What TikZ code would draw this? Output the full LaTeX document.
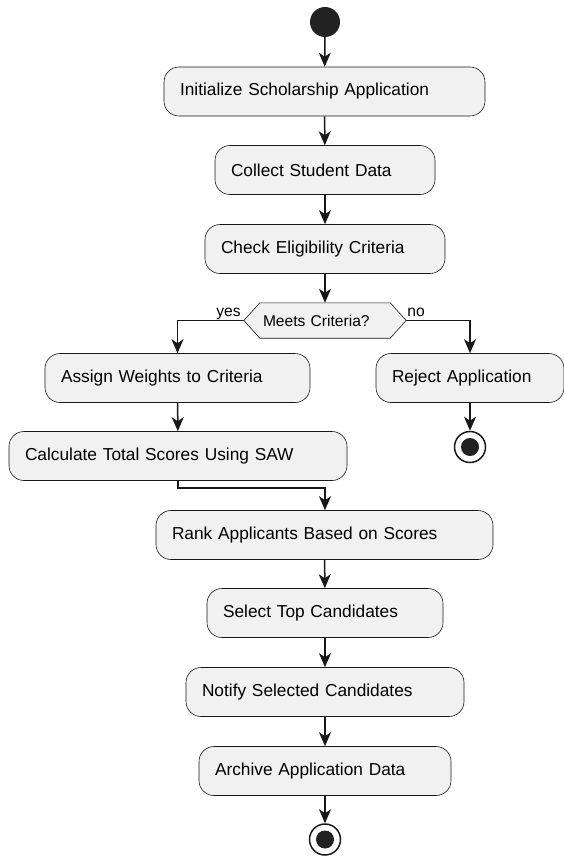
\documentclass[tikz,border=0pt]{standalone}
\usepackage{fontspec}
\setmainfont{Liberation Sans}
\usepackage{tikz}
\usetikzlibrary{arrows.meta,calc,backgrounds}
\definecolor{actfill}{HTML}{F1F1F1}
\definecolor{actline}{HTML}{181818}
\definecolor{dotfill}{HTML}{222222}

\begin{document}
\begin{tikzpicture}[x=1pt, y=-1pt, >={Stealth[length=14pt,width=12pt,inset=4pt]},
  act/.style={draw=actline, fill=actfill, rounded corners=15pt, line width=0.6pt,
              minimum height=49pt, align=left, inner xsep=16pt, inner ysep=0pt,
              font=\fontsize{17.3}{20}\selectfont},
  choice/.style={minimum width=130pt, minimum height=35pt, inner xsep=3pt, inner ysep=0pt,
                 text width=124pt, align=left, font=\fontsize{15.6}{18}\selectfont},
  lbl/.style={inner sep=0pt, font=\fontsize{15.6}{18}\selectfont},
  startdot/.style={circle, fill=dotfill, minimum size=30pt, inner sep=0pt},
  enddot/.style={circle, draw=actline, fill=white, line width=1.5pt, minimum size=31pt,
                 inner sep=0pt,
                 path picture={\fill[dotfill] (path picture bounding box.center) circle (9pt);}},
  flow/.style={->, draw=actline, line width=1.5pt}]
  \useasboundingbox (0,0) rectangle (564,856);

  \node[startdot] (start) at (325,22) {};
  \node[act, text width=289pt] (init) at (324.5,91.5) {Initialize Scholarship Application};
  \node[act, text width=188pt] (collect) at (325,170) {Collect Student Data};
  \node[act, text width=208pt] (check) at (325,249) {Check Eligibility Criteria};

  % decision
  \node[choice] (meets) at (325,320.5) {Meets Criteria?};
  \coordinate (meetsW) at ($(meets.west)+(-16,0)$);
  \coordinate (meetsE) at ($(meets.east)+(16,0)$);
  \begin{pgfonlayer}{background}
    \draw[draw=actline, fill=actfill, line width=0.6pt] (meetsW) -- (meets.north west)
      -- (meets.north east) -- (meetsE) -- (meets.south east) -- (meets.south west) -- cycle;
  \end{pgfonlayer}
  \node[lbl, anchor=base east] (yes) at ($(meetsW)+(-3,-4.5)$) {yes};
  \node[lbl, anchor=base west] (no) at ($(meetsE)+(1,-4.5)$) {no};

  \node[act, text width=233pt] (assign) at (177.5,378) {Assign Weights to Criteria};
  \node[act, text width=306pt] (calc) at (178,456) {Calculate Total Scores Using SAW};
  \node[act, text width=156pt] (reject) at (470,378) {Reject Application};
  \node[enddot] (stopA) at (470,447) {};

  \node[act, text width=305pt] (rank) at (324.5,535) {Rank Applicants Based on Scores};
  \node[act, text width=204pt] (select) at (325,613) {Select Top Candidates};
  \node[act, text width=246pt] (notify) at (325,692) {Notify Selected Candidates};
  \node[act, text width=220pt] (archive) at (325,771) {Archive Application Data};
  \node[enddot] (stopB) at (325,839.5) {};

  \coordinate (merge) at (325,488);

  \draw[flow] (start) -- (init);
  \draw[flow] (init) -- (collect);
  \draw[flow] (collect) -- (check);
  \draw[flow] (check) -- (meets.north);
  \draw[flow] (meetsW) -| (assign.north);
  \draw[flow] (meetsE) -| (reject.north);
  \draw[flow] (assign) -- (calc);
  \draw[flow] (reject) -- (stopA);
  \draw[flow] (calc.south) -- (calc.south |- merge) -- (merge) -- (merge |- rank.north);
  \draw[flow] (rank) -- (select);
  \draw[flow] (select) -- (notify);
  \draw[flow] (notify) -- (archive);
  \draw[flow] (archive) -- (stopB);
\end{tikzpicture}
\end{document}
